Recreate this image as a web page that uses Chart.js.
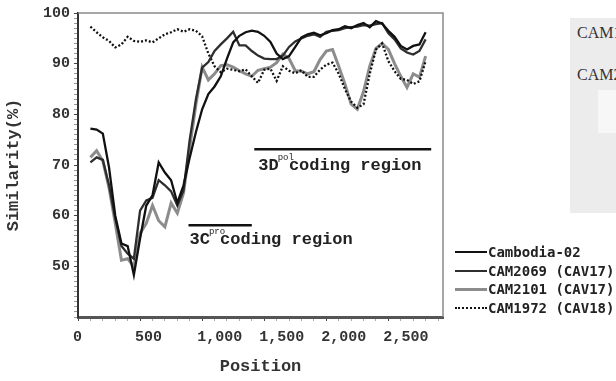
<!DOCTYPE html>
<html>
<head>
<meta charset="utf-8">
<script src="https://cdn.jsdelivr.net/npm/chart.js@4.4.0/dist/chart.umd.min.js"></script>
<style>
  body { margin: 0; background: #fff; width: 616px; height: 381px; overflow: hidden; position: relative; }
  #chart { position: absolute; left: 0; top: 0; }
  #legend { position: absolute; left: 455px; top: 243px; font: bold 14px "DejaVu Sans Mono", monospace; color: #222; white-space: nowrap; }
  .row { position: absolute; left: 0; height: 18px; line-height: 18px; }
  .row .ln { position: absolute; left: 0; top: 8px; width: 32px; height: 0; }
  .row .tx { position: absolute; left: 33px; top: 0; }
  #scrap { position: absolute; left: 570px; top: 18px; width: 46px; height: 195px; background: #ececec; overflow: hidden; }
  #scrap .inner { position: absolute; left: 28px; top: 72px; width: 18px; height: 43px; background: #f7f7f7; }
  #scrap .cam { position: absolute; left: 7px; font: 16px "Liberation Serif", serif; color: #333; }
</style>
</head>
<body>
<canvas id="chart" width="616" height="381"></canvas>
<div id="scrap">
  <div class="inner"></div>
  <div class="cam" style="top:6px">CAM1</div>
  <div class="cam" style="top:48px">CAM2</div>
</div>
<div id="legend"></div>
<script>
// 位置 (nt)
const positions = [100, 150, 200, 250, 300, 350, 400, 450, 500, 550,
  600, 650, 700, 750, 800, 850, 900, 950, 1000, 1050,
  1100, 1150, 1200, 1250, 1300, 1350, 1400, 1450, 1500, 1550,
  1600, 1650, 1700, 1750, 1800, 1850, 1900, 1950, 2000, 2050,
  2100, 2150, 2200, 2250, 2300, 2350, 2400, 2450, 2500, 2550,
  2600, 2650, 2700, 2750, 2800];

// 類似度 (%)
const cambodia02 = [77.2, 77.0, 76.2, 69.5, 60.0, 54.5, 54.0, 48.3, 55.5, 62.0,
  64.0, 70.5, 68.5, 67.0, 62.5, 66.0, 71.5, 76.5, 81.0, 84.0,
  85.5, 87.5, 91.0, 94.2, 95.5, 96.2, 96.5, 96.3, 95.5, 94.3,
  92.0, 90.9, 91.5, 93.3, 95.2, 95.8, 96.1, 95.6, 96.0, 96.6,
  96.8, 97.4, 97.0, 97.6, 98.0, 97.2, 98.4, 97.9, 96.5, 95.3,
  93.5, 92.8, 93.5, 93.8, 96.2];

const cam2069 = [70.5, 71.5, 71.0, 66.0, 59.5, 54.0, 52.5, 51.5, 61.0, 63.0,
  63.5, 67.0, 66.0, 64.8, 62.0, 65.0, 75.0, 83.0, 89.2, 90.3,
  92.5, 93.8, 95.0, 96.3, 93.6, 93.6, 92.5, 91.6, 91.0, 90.9,
  90.9, 91.6, 93.3, 94.4, 95.0, 95.5, 95.8, 95.3, 96.3, 96.5,
  96.6, 97.0, 97.2, 97.3, 97.6, 97.5, 97.8, 98.0, 96.0, 94.8,
  93.0, 92.2, 91.8, 92.5, 94.8];

const cam2101 = [71.5, 72.8, 70.8, 65.5, 58.5, 51.2, 51.5, 50.0, 56.5, 58.5,
  62.0, 59.0, 57.8, 62.5, 60.5, 64.5, 73.5, 82.0, 89.3, 86.8,
  88.0, 89.6, 89.8, 89.3, 88.6, 88.0, 87.5, 88.7, 89.0, 89.3,
  90.2, 91.9, 91.0, 88.6, 88.5, 88.0, 88.4, 90.8, 92.5, 92.8,
  89.5, 86.0, 82.0, 81.0, 84.5, 89.5, 93.0, 94.0, 92.8, 90.0,
  87.5, 85.3, 88.0, 87.3, 91.5];

const cam1972 = [97.3, 96.2, 95.2, 94.5, 93.2, 93.8, 95.3, 94.5, 94.3, 94.6,
  94.2, 95.0, 95.8, 96.2, 96.8, 96.3, 96.8, 96.5, 95.4, 92.0,
  89.5, 88.3, 89.0, 88.8, 88.5, 88.9, 87.5, 86.2, 88.8, 89.0,
  86.6, 89.5, 88.6, 88.1, 88.7, 87.4, 87.4, 88.8, 89.8, 90.2,
  88.0, 85.0, 82.5, 81.3, 82.0, 88.0, 92.8, 94.0, 90.5, 88.5,
  87.0, 86.8, 86.0, 86.5, 90.5];

const seriesNames = ["Cambodia-02", "CAM2069 (CAV17)", "CAM2101 (CAV17)", "CAM1972 (CAV18)"];
const seriesValues = [cambodia02, cam2069, cam2101, cam1972];
const seriesColors = ["#111111", "#2e2e2e", "#8c8c8c", "#111111"];

// 軸の目盛
const xTickLabels = [0, 500, 1000, 1500, 2000, 2500];
const yTickLabels = [50, 60, 70, 80, 90, 100];

// コーディング領域
const regionNames = ["3C", "3D"];
const regionSups = ["pro", "pol"];
const regionStart = [890, 1420];
const regionEnd = [1400, 2845];
const regionLevel = [58.1, 73.1];

const xMax = 2940;
const yMin = 40;
const yMax = 100;

const monoFont = "'Liberation Mono', 'Courier New', monospace";

// 小目盛 (x: 100ごと, y: 1ごと)
function minorTicks(min, max, step) {
  const list = [];
  for (let v = min; v <= max; v += step) list.push({ value: v });
  return list;
}

// 上と右の枠線
const frameBox = {
  id: "frameBox",
  afterDraw(chart) {
    const { ctx, chartArea: a } = chart;
    ctx.save();
    ctx.strokeStyle = "#8a8a8a";
    ctx.lineWidth = 1.5;
    ctx.beginPath();
    ctx.moveTo(a.left, a.top);
    ctx.lineTo(a.right, a.top);
    ctx.lineTo(a.right, a.bottom);
    ctx.stroke();
    ctx.restore();
  },
};

// 領域ラベル
const regionLabels = {
  id: "regionLabels",
  afterDatasetsDraw(chart) {
    const { ctx } = chart;
    const xs = chart.scales.x;
    const ys = chart.scales.y;
    ctx.save();
    regionNames.forEach((name, i) => {
      const x0 = xs.getPixelForValue(regionStart[i]);
      const x1 = xs.getPixelForValue(regionEnd[i]);
      const y = ys.getPixelForValue(regionLevel[i]);
      ctx.strokeStyle = "#111";
      ctx.lineWidth = 2.5;
      ctx.beginPath();
      ctx.moveTo(x0, y);
      ctx.lineTo(x1, y);
      ctx.stroke();

      ctx.fillStyle = "#222";
      ctx.textBaseline = "middle";
      ctx.textAlign = "left";
      ctx.font = "bold 17px " + monoFont;
      const tx = x0 + (i === 0 ? 1 : 4);
      const ty = y + (i === 0 ? 14 : 16);
      ctx.fillText(name + " coding region", tx, ty);
      const w = ctx.measureText(name).width;
      ctx.font = "9px " + monoFont;
      ctx.fillText(regionSups[i], tx + w - 1, ty - 8);
    });
    ctx.restore();
  },
};

const datasets = seriesNames.map((name, i) => ({
  label: name,
  data: positions.map((p, j) => ({ x: p, y: seriesValues[i][j] })),
  borderColor: seriesColors[i],
  borderWidth: i === 2 ? 3 : 2.3,
  borderDash: i === 3 ? [2, 2] : [],
  pointRadius: 0,
  tension: 0,
  fill: false,
  order: [0, 1, 3, 2][i],
}));

new Chart(document.getElementById("chart"), {
  type: "line",
  data: { datasets: datasets },
  options: {
    responsive: false,
    animation: false,
    layout: { padding: { left: 0, top: 12, right: 173, bottom: 0 } },
    plugins: {
      legend: { display: false },
      tooltip: { enabled: false },
    },
    scales: {
      x: {
        type: "linear",
        min: 0,
        max: xMax,
        afterFit(scale) { scale.height = 64; },
        afterBuildTicks(scale) { scale.ticks = minorTicks(0, 2900, 100); },
        border: { color: "#555", width: 3 },
        grid: {
          drawOnChartArea: false,
          tickLength: 4,
          tickColor: (c) => (c.tick && xTickLabels.includes(c.tick.value) ? "#444" : "#aaa"),
        },
        ticks: {
          autoSkip: false,
          maxRotation: 0,
          align: "start",
          labelOffset: -5,
          padding: 7,
          color: "#333",
          font: { family: monoFont, size: 15, weight: "bold" },
          callback: (v) => (xTickLabels.includes(v) ? v.toLocaleString("en-US") : ""),
        },
        title: {
          display: true,
          text: "Position",
          color: "#333",
          font: { family: monoFont, size: 17, weight: "bold" },
        },
      },
      y: {
        min: yMin,
        max: yMax,
        afterFit(scale) { scale.width = 78; },
        afterBuildTicks(scale) { scale.ticks = minorTicks(yMin, yMax, 1); },
        border: { color: "#333", width: 2 },
        grid: {
          drawOnChartArea: false,
          tickLength: 4,
          tickColor: (c) => (c.tick && yTickLabels.includes(c.tick.value) ? "#444" : "#999"),
        },
        ticks: {
          autoSkip: false,
          padding: 4,
          color: "#333",
          font: { family: monoFont, size: 15, weight: "bold" },
          callback: (v) => (yTickLabels.includes(v) ? String(v) : ""),
        },
        title: {
          display: true,
          text: "Similarity(%)",
          color: "#333",
          font: { family: monoFont, size: 17, weight: "bold" },
        },
      },
    },
  },
  plugins: [frameBox, regionLabels],
});

// 凡例
const legend = document.getElementById("legend");
seriesNames.forEach((name, i) => {
  const row = document.createElement("div");
  row.className = "row";
  row.style.top = i * 18.6 + "px";
  const ln = document.createElement("div");
  ln.className = "ln";
  ln.style.borderTop = (i === 2 ? 3 : 2.5) + "px " + (i === 3 ? "dotted " : "solid ") + seriesColors[i];
  const tx = document.createElement("div");
  tx.className = "tx";
  tx.textContent = name;
  row.appendChild(ln);
  row.appendChild(tx);
  legend.appendChild(row);
});
</script>
</body>
</html>
